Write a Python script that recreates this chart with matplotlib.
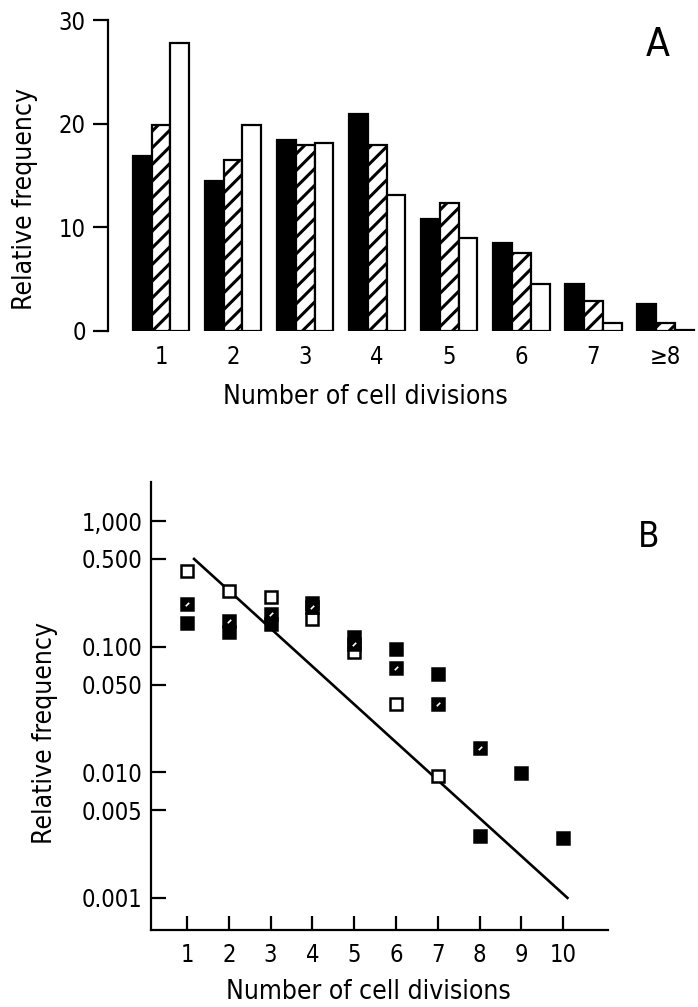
import numpy as np
import matplotlib
matplotlib.use('Agg')
import matplotlib.pyplot as plt

plt.rcParams['font.family'] = ['DejaVu Sans']
plt.rcParams['font.stretch'] = 'condensed'
plt.rcParams['hatch.linewidth'] = 2.2

# panel A: relative frequency (%) per number of divisions
cats = ['1', '2', '3', '4', '5', '6', '7', '≥8']
black_vals = [16.9, 14.5, 18.4, 20.9, 10.8, 8.5, 4.5, 2.6]
hatch_vals = [19.9, 16.5, 17.9, 17.9, 12.3, 7.5, 2.9, 0.8]
white_vals = [27.8, 19.9, 18.1, 13.1, 9.0, 4.5, 0.8, 0.1]

# panel B: log relative frequency
open_x = [1, 2, 3, 4, 5, 6, 7]
open_y = [0.40, 0.28, 0.248, 0.167, 0.090, 0.035, 0.0094]
hatch_x = [1, 2, 3, 4, 5, 6, 7, 8]
hatch_y = [0.22, 0.161, 0.183, 0.206, 0.105, 0.068, 0.035, 0.0157]
black_x = [1, 2, 3, 4, 5, 6, 7, 8, 9, 10]
black_y = [0.154, 0.130, 0.152, 0.222, 0.119, 0.096, 0.061, 0.0031, 0.0098, 0.0030]
fit_x = [1.17, 10.1]
fit_y = [0.50, 0.001]

W, H = 698, 1007
fig = plt.figure(figsize=(W / 100, H / 100), dpi=100)


def box(l, t, r, b):
    return [l / W, 1 - b / H, (r - l) / W, (b - t) / H]


# ---- panel A
axA = fig.add_axes(box(108, 20, 698, 331))
x = np.arange(len(cats))
w = 0.26
axA.bar(x - w, black_vals, w, color='black', edgecolor='black', lw=1.6)
axA.bar(x, hatch_vals, w, color='white', edgecolor='black', lw=1.6, hatch='//')
axA.bar(x + w, white_vals, w, color='white', edgecolor='black', lw=1.6)
axA.set_xlim(-0.735, 7.45)
axA.set_ylim(0, 30)
axA.set_yticks([0, 10, 20, 30])
axA.set_xticks(x, cats)
for s in ['top', 'right', 'bottom']:
    axA.spines[s].set_visible(False)
axA.spines['left'].set_linewidth(1.6)
axA.tick_params(axis='y', direction='out', length=11, width=1.6, pad=5, labelsize=17)
axA.tick_params(axis='x', length=0, pad=10, labelsize=17)

fig.text(25 / W, 1 - 199 / H, 'Relative frequency', rotation=90,
         ha='center', va='center', fontsize=19)
fig.text(365 / W, 1 - 397 / H, 'Number of cell divisions',
         ha='center', va='center', fontsize=19)
fig.text(658 / W, 1 - 45 / H, 'A', ha='center', va='center', fontsize=28)

# ---- panel B
axB = fig.add_axes(box(151, 482, 608, 930))
axB.plot(fit_x, fit_y, color='black', lw=1.9)
axB.plot(open_x, open_y, 's', ms=8.5, mfc='white', mec='black', mew=1.8)
axB.plot(black_x, black_y, 's', ms=8.5, mfc='black', mec='black', mew=1.8)
axB.plot(hatch_x, hatch_y, 's', ms=8.5, mfc='black', mec='black', mew=1.8)
axB.plot(hatch_x, hatch_y, marker=(2, 0, -45), ls='none', ms=3.5, mec='white', mew=1.2)
axB.set_yscale('log')
axB.set_ylim(5.55e-4, 2.05)
axB.set_xlim(0.14, 11.07)
yt = [1.0, 0.5, 0.1, 0.05, 0.01, 0.005, 0.001]
axB.set_yticks(yt, ['1,000', '0.500', '0.100', '0.050', '0.010', '0.005', '0.001'])
axB.yaxis.set_minor_locator(matplotlib.ticker.NullLocator())
axB.set_xticks(range(1, 11))
for s in ['top', 'right']:
    axB.spines[s].set_visible(False)
axB.spines['left'].set_linewidth(1.6)
axB.spines['bottom'].set_linewidth(1.6)
axB.tick_params(axis='y', direction='in', length=11, width=1.6, pad=6, labelsize=17)
axB.tick_params(axis='x', direction='in', length=10, width=1.6, pad=9, labelsize=17)

fig.text(45 / W, 1 - 733 / H, 'Relative frequency', rotation=90,
         ha='center', va='center', fontsize=19)
fig.text(368 / W, 1 - 992 / H, 'Number of cell divisions',
         ha='center', va='center', fontsize=19)
fig.text(649 / W, 1 - 537 / H, 'B', ha='center', va='center', fontsize=25)

fig.savefig('out.png', dpi=100)
